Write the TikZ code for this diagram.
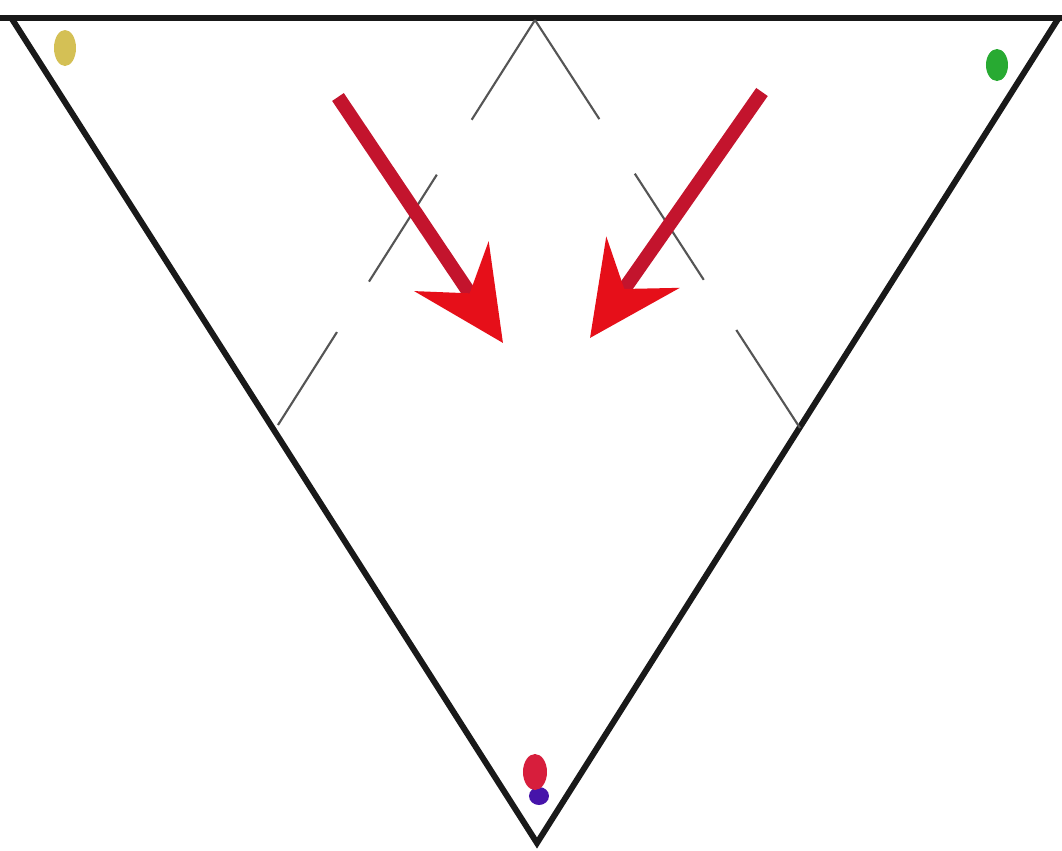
\documentclass[tikz,border=0pt]{standalone}
\usetikzlibrary{arrows.meta}
\definecolor{edge}{RGB}{25,25,25}
\definecolor{dashgray}{RGB}{85,85,85}
\definecolor{shaftred}{RGB}{195,20,45}
\definecolor{headred}{RGB}{230,15,25}
\definecolor{dotyellow}{RGB}{212,192,85}
\definecolor{dotgreen}{RGB}{40,170,50}
\definecolor{dotred}{RGB}{215,30,60}
\definecolor{dotblue}{RGB}{70,20,170}
\tikzset{
  frame/.style={draw=edge, line width=1.7pt, line join=miter},
  guide/.style={draw=dashgray, line width=0.6pt,
    dash pattern=on 33.6pt off 18.5pt on 36pt off 17pt},
  bigarrow/.style={draw=shaftred, line width=4pt,
    -{Stealth[length=26pt, width=25pt, inset=9pt, color=headred, fill=headred]}},
}
\begin{document}
\begin{tikzpicture}[x=0.01cm, y=-0.01cm]
\useasboundingbox (0,0) rectangle (1062,851);
\fill[white] (0,0) rectangle (1062,851);
% coordinates
\coordinate (L) at (12,19);
\coordinate (R) at (1058,19);
\coordinate (B) at (537,843);
\coordinate (T) at (535,20);
\coordinate (GL) at (278,425);
\coordinate (GR) at (800,428);
% triangle
\draw[frame] (0,18) -- (1062,18);
\draw[frame] (L) -- (B) -- (R);
% dashed guides
\draw[guide] (T) -- (GL);
\draw[guide] (T) -- (GR);
% arrows
\coordinate (A1s) at (338,97);
\coordinate (A1e) at (503,343);
\coordinate (A2s) at (762,92);
\coordinate (A2e) at (590,338);
\draw[bigarrow] (A1s) -- (A1e);
\draw[bigarrow] (A2s) -- (A2e);
% dots
\fill[dotyellow] (65,48) ellipse [x radius=11, y radius=18];
\fill[dotgreen] (997,65) ellipse [x radius=11, y radius=16];
\fill[dotblue] (539,796) ellipse [x radius=10, y radius=9];
\fill[dotred] (535,772) ellipse [x radius=12, y radius=18];
\end{tikzpicture}
\end{document}
